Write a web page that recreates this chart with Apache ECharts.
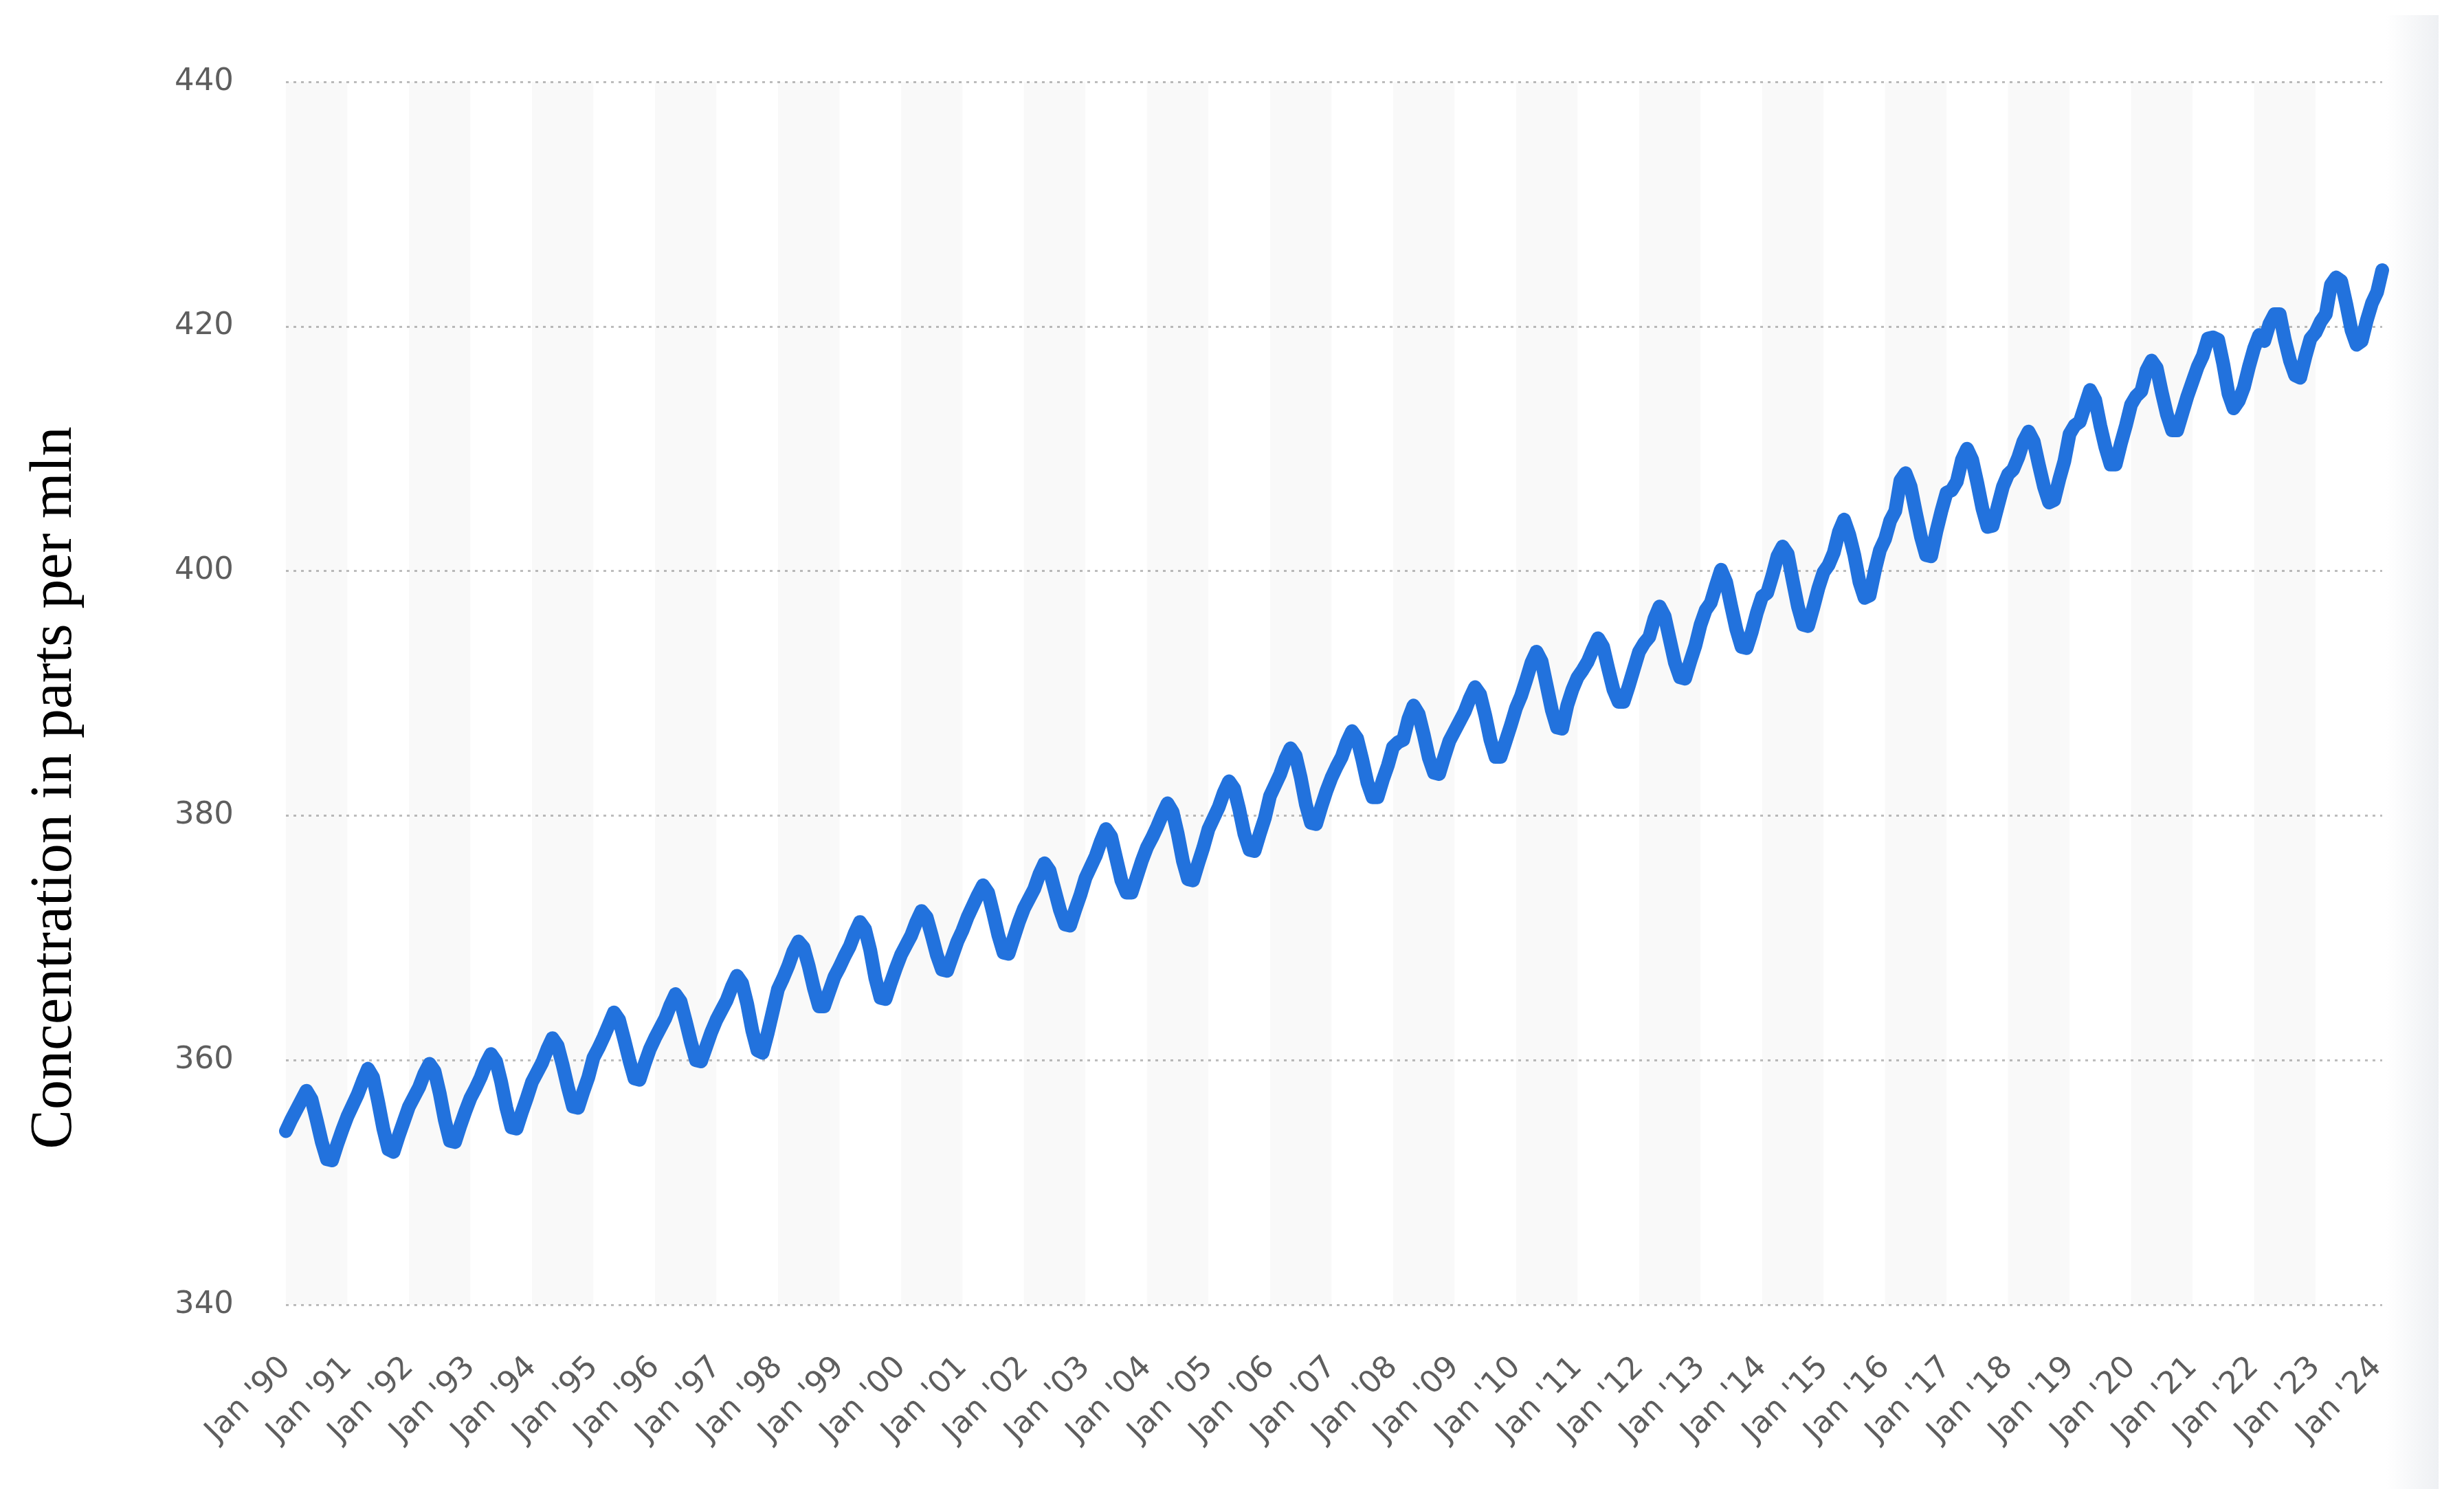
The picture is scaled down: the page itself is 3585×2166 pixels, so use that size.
<!DOCTYPE html>
<html>
<head>
<meta charset="utf-8">
<script src="https://cdn.jsdelivr.net/npm/echarts@6/dist/echarts.min.js"></script>
<style>
  html, body { margin: 0; padding: 0; background: #ffffff; }
  #chart { width: 3585px; height: 2166px; }
</style>
</head>
<body>
<div id="chart"></div>
<script>
// ---- Data (monthly CO2 concentration, ppm) ----
const monthNames = ['Jan','Feb','Mar','Apr','May','Jun','Jul','Aug','Sep','Oct','Nov','Dec'];
const years = [1990,1991,1992,1993,1994,1995,1996,1997,1998,1999,2000,2001,2002,2003,2004,2005,2006,2007,2008,2009,2010,2011,2012,2013,2014,2015,2016,2017,2018,2019,2020,2021,2022,2023,2024];
const yTicks = [340, 360, 380, 400, 420, 440];

const v1990 = [354.2, 355.1, 355.9, 356.7, 357.5, 356.8, 355.1, 353.3, 351.9, 351.8, 353.1, 354.3];
const v1991 = [355.4, 356.3, 357.2, 358.3, 359.3, 358.6, 356.6, 354.4, 352.7, 352.5, 353.8, 355.0];
const v1992 = [356.2, 357.0, 357.8, 358.9, 359.7, 359.1, 357.3, 355.1, 353.4, 353.3, 354.6, 355.8];
const v1993 = [356.9, 357.7, 358.6, 359.7, 360.5, 359.9, 358.2, 356.1, 354.5, 354.4, 355.7, 356.9];
const v1994 = [358.2, 359.0, 359.8, 360.9, 361.8, 361.2, 359.6, 357.8, 356.2, 356.1, 357.4, 358.6];
const v1995 = [360.2, 361.0, 361.9, 362.9, 363.9, 363.3, 361.7, 360.0, 358.5, 358.4, 359.7, 360.9];
const v1996 = [361.8, 362.6, 363.4, 364.5, 365.4, 364.8, 363.2, 361.5, 360.0, 359.9, 361.1, 362.3];
const v1997 = [363.3, 364.1, 364.9, 366.0, 366.9, 366.3, 364.6, 362.4, 360.8, 360.6, 362.2, 364.0];
const v1998 = [365.8, 366.7, 367.7, 368.9, 369.7, 369.2, 367.7, 365.9, 364.4, 364.4, 365.6, 366.8];
const v1999 = [367.6, 368.5, 369.3, 370.4, 371.3, 370.7, 369.0, 366.7, 365.1, 365.0, 366.3, 367.5];
const v2000 = [368.6, 369.4, 370.2, 371.3, 372.2, 371.7, 370.2, 368.6, 367.4, 367.3, 368.5, 369.7];
const v2001 = [370.6, 371.7, 372.6, 373.5, 374.3, 373.7, 372.0, 370.2, 368.8, 368.7, 370.0, 371.3];
const v2002 = [372.4, 373.2, 374.0, 375.2, 376.1, 375.5, 373.9, 372.3, 371.1, 371.0, 372.3, 373.5];
const v2003 = [374.9, 375.8, 376.7, 377.9, 378.9, 378.3, 376.5, 374.7, 373.7, 373.7, 375.0, 376.3];
const v2004 = [377.4, 378.2, 379.1, 380.1, 381.0, 380.3, 378.5, 376.3, 374.8, 374.7, 376.1, 377.4];
const v2005 = [378.9, 379.8, 380.7, 381.9, 382.8, 382.2, 380.5, 378.5, 377.2, 377.1, 378.5, 379.8];
const v2006 = [381.6, 382.5, 383.4, 384.6, 385.5, 384.9, 383.1, 380.9, 379.4, 379.3, 380.7, 382.0];
const v2007 = [383.1, 384.0, 384.8, 386.0, 386.9, 386.3, 384.6, 382.7, 381.5, 381.5, 382.9, 384.1];
const v2008 = [385.6, 386.0, 386.2, 387.9, 389.0, 388.3, 386.6, 384.7, 383.5, 383.4, 384.8, 386.1];
const v2009 = [386.9, 387.7, 388.5, 389.6, 390.5, 389.9, 388.2, 386.2, 384.8, 384.8, 386.1, 387.4];
const v2010 = [388.8, 389.8, 391.1, 392.5, 393.4, 392.6, 390.6, 388.6, 387.2, 387.1, 389.0, 390.3];
const v2011 = [391.3, 391.9, 392.6, 393.6, 394.5, 393.8, 392.0, 390.3, 389.3, 389.3, 390.6, 392.0];
const v2012 = [393.4, 394.1, 394.6, 396.1, 397.1, 396.3, 394.4, 392.5, 391.3, 391.2, 392.6, 393.9];
const v2013 = [395.6, 396.8, 397.4, 398.8, 400.1, 399.1, 397.1, 395.2, 393.8, 393.7, 395.0, 396.6];
const v2014 = [397.9, 398.2, 399.6, 401.2, 402.0, 401.4, 399.2, 397.1, 395.6, 395.5, 397.0, 398.6];
const v2015 = [399.9, 400.5, 401.5, 403.2, 404.2, 403.0, 401.3, 399.1, 397.8, 398.0, 400.0, 401.7];
const v2016 = [402.6, 404.1, 404.9, 407.4, 408.0, 406.9, 404.8, 402.8, 401.3, 401.2, 403.2, 404.9];
const v2017 = [406.4, 406.6, 407.3, 409.1, 410.0, 409.1, 407.2, 405.1, 403.6, 403.7, 405.3, 406.9];
const v2018 = [407.9, 408.3, 409.3, 410.6, 411.4, 410.6, 408.7, 406.9, 405.6, 405.8, 407.5, 409.0];
const v2019 = [411.2, 411.9, 412.2, 413.5, 414.8, 414.0, 411.9, 410.1, 408.7, 408.7, 410.4, 411.9];
const v2020 = [413.6, 414.3, 414.7, 416.4, 417.2, 416.6, 414.6, 412.8, 411.5, 411.5, 412.9, 414.3];
const v2021 = [415.5, 416.7, 417.6, 419.0, 419.1, 418.9, 416.9, 414.5, 413.3, 413.9, 415.0, 416.7];
const v2022 = [418.2, 419.3, 418.8, 420.2, 421.0, 421.0, 418.9, 417.2, 416.0, 415.8, 417.5, 419.0];
const v2023 = [419.5, 420.4, 421.0, 423.4, 424.0, 423.7, 421.8, 419.7, 418.5, 418.8, 420.5, 421.9];
const v2024 = [422.8, 424.6];

const yearValues = [v1990,v1991,v1992,v1993,v1994,v1995,v1996,v1997,v1998,v1999,v2000,v2001,v2002,v2003,v2004,v2005,v2006,v2007,v2008,v2009,v2010,v2011,v2012,v2013,v2014,v2015,v2016,v2017,v2018,v2019,v2020,v2021,v2022,v2023,v2024];

// ---- Build category list & series data ----
const categories = [];
const values = [];
years.forEach(function (y, i) {
  yearValues[i].forEach(function (v, m) {
    categories.push(monthNames[m] + " '" + String(y).slice(2));
    values.push(v);
  });
});

const chart = echarts.init(document.getElementById('chart'), null, { renderer: 'canvas' });

const option = {
  backgroundColor: '#ffffff',
  animation: false,
  grid: { left: 416, right: 119, top: 119, bottom: 268, containLabel: false },
  xAxis: {
    type: 'category',
    data: categories,
    boundaryGap: false,
    axisLine: { show: false },
    axisTick: { show: false },
    axisLabel: {
      interval: 11,
      rotate: 45,
      margin: 84,
      color: '#5e5e5e',
      fontFamily: 'DejaVu Sans',
      fontSize: 45
    },
    splitLine: { show: false },
    splitArea: {
      show: true,
      interval: 11,
      areaStyle: { color: ['rgba(0,0,0,0.022)', 'rgba(0,0,0,0)'] }
    }
  },
  yAxis: {
    type: 'value',
    min: yTicks[0],
    max: yTicks[yTicks.length - 1],
    interval: 20,
    axisLine: { show: false },
    axisTick: { show: false },
    axisLabel: {
      margin: 76,
      color: '#5e5e5e',
      fontFamily: 'DejaVu Sans',
      fontSize: 45
    },
    splitLine: {
      show: true,
      lineStyle: { color: '#bdbdbd', width: 3, type: [4, 7] }
    }
  },
  graphic: [
    {
      type: 'rect',
      z: -10,
      shape: { x: 3472, y: 22, width: 76, height: 2144 },
      style: {
        fill: new echarts.graphic.LinearGradient(0, 0, 1, 0, [
          { offset: 0, color: 'rgba(238,240,243,0)' },
          { offset: 1, color: 'rgba(238,240,243,1)' }
        ])
      }
    },
    {
      type: 'text',
      x: 80,
      y: 1146,
      rotation: Math.PI / 2,
      style: {
        text: 'Concentration in parts per mln',
        fill: '#000000',
        fontFamily: 'Liberation Serif',
        fontSize: 86,
        align: 'center',
        verticalAlign: 'middle',
        textAlign: 'center',
        textVerticalAlign: 'middle'
      }
    }
  ],
  series: [
    {
      type: 'line',
      data: values,
      showSymbol: false,
      symbol: 'none',
      smooth: false,
      lineStyle: { color: '#2272dd', width: 20, cap: 'round', join: 'round' },
      itemStyle: { color: '#2272dd' }
    }
  ]
};

chart.setOption(option);
</script>
</body>
</html>
